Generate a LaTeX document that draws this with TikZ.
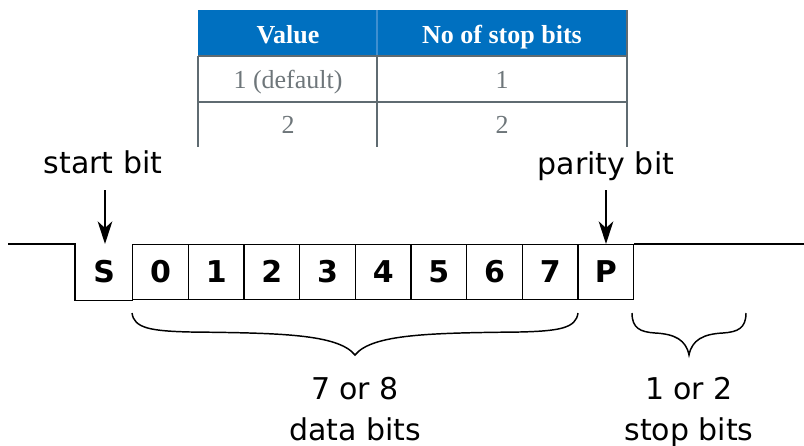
\documentclass[tikz,border=0pt]{standalone}
\usepackage{fontspec}
\setmainfont{Liberation Serif}
\newfontfamily\dejavu{DejaVu Sans}
\usetikzlibrary{arrows.meta}

\definecolor{tblblue}{HTML}{0070C0}
\definecolor{tbldiv}{HTML}{3F8FD0}
\definecolor{tblline}{HTML}{5F6B71}
\definecolor{tbltext}{HTML}{6E767A}

\begin{document}
\begin{tikzpicture}[x=0.75pt,y=-0.75pt,
  wire/.style={line width=1.1pt, black},
  bitbox/.style={draw, line width=1.1pt, minimum width=41.75pt, minimum height=41.25pt,
    inner sep=0pt, text height=16pt, text depth=0pt, anchor=north west,
    font=\dejavu\bfseries\fontsize{22.5}{26}\selectfont},
  lbl/.style={anchor=base, inner sep=0pt, font=\dejavu\fontsize{22.5}{27}\selectfont},
  pointer/.style={line width=1.1pt, -{Stealth[length=17pt, width=11pt, inset=5pt]}},
  brace/.style={line width=1.1pt},
  hdr/.style={anchor=base, inner sep=0pt, text=white, font=\bfseries\fontsize{19.5}{23}\selectfont},
  cell/.style={anchor=base, inner sep=0pt, text=tbltext, font=\fontsize{19.5}{23}\selectfont},
  grid/.style={draw=tblline, line width=1.1pt}]
\useasboundingbox (0,0) rectangle (804,446);

% settings table
\fill[tblblue] (198,10) rectangle (627,56);
\draw[tbldiv, line width=0.8pt] (377,10) -- (377,56);
\draw[grid] (198,56) -- (198,147);
\draw[grid] (377,56) -- (377,147);
\draw[grid] (627,10) -- (627,147);
\draw[grid] (198,56) -- (627,56);
\draw[grid] (198,102) -- (627,102);
\node[hdr] (hval) at (288,43) {Value};
\node[hdr] (hstop) at (502,43) {No of stop bits};
\node[cell] (c11) at (288,88) {1 (default)};
\node[cell] (c12) at (502,88) {1};
\node[cell] (c21) at (288,133) {2};
\node[cell] (c22) at (502,133) {2};

% frame: start bit, data bits, parity bit
\node[bitbox, draw=none, minimum width=42.75pt] (bS) at (75,244) {S};
\foreach \t [count=\i from 0] in {0,1,2,3,4,5,6,7,P}
  \node[bitbox] (b\i) at ({132+55.67*\i},244) {\t};

% idle line and start-bit drop
\coordinate (idlein) at (8,244);
\coordinate (idleout) at (804,244);
\draw[wire] (idlein) -- (bS.north west) -- (bS.south west) -- (bS.south east);
\draw[wire] (b8.north east) -- (idleout);

% labels with pointers
\node[lbl] (startlbl) at (103,173) {start bit};
\node[lbl] (paritylbl) at (606,174) {parity bit};
\coordinate (startarr) at (105,190);
\coordinate (parityarr) at (606,190);
\draw[pointer] (startarr) -- (startarr |- bS.north);
\draw[pointer] (parityarr) -- (parityarr |- b8.north);

% braces
\coordinate (dL) at (132,313);
\coordinate (dT) at (355,355);
\coordinate (dR) at (578,313);
\draw[brace] (dL) .. controls (134,328) and (150,331) .. (190,332)
  .. controls (280,333) and (338,334) .. (dT)
  .. controls (372,334) and (430,333) .. (520,332)
  .. controls (560,331) and (576,328) .. (dR);
\coordinate (sL) at (632,313);
\coordinate (sT) at (689,355);
\coordinate (sR) at (746,313);
\draw[brace] (sL) .. controls (632,328) and (640,332) .. (655,333)
  .. controls (675,334) and (686,340) .. (sT)
  .. controls (692,340) and (703,334) .. (723,333)
  .. controls (738,332) and (746,328) .. (sR);

\node[lbl] (data1) at (355,399) {7 or 8};
\node[lbl] (data2) at (355,440) {data bits};
\node[lbl] (stop1) at (689,399) {1 or 2};
\node[lbl] (stop2) at (689,440) {stop bits};
\end{tikzpicture}
\end{document}
